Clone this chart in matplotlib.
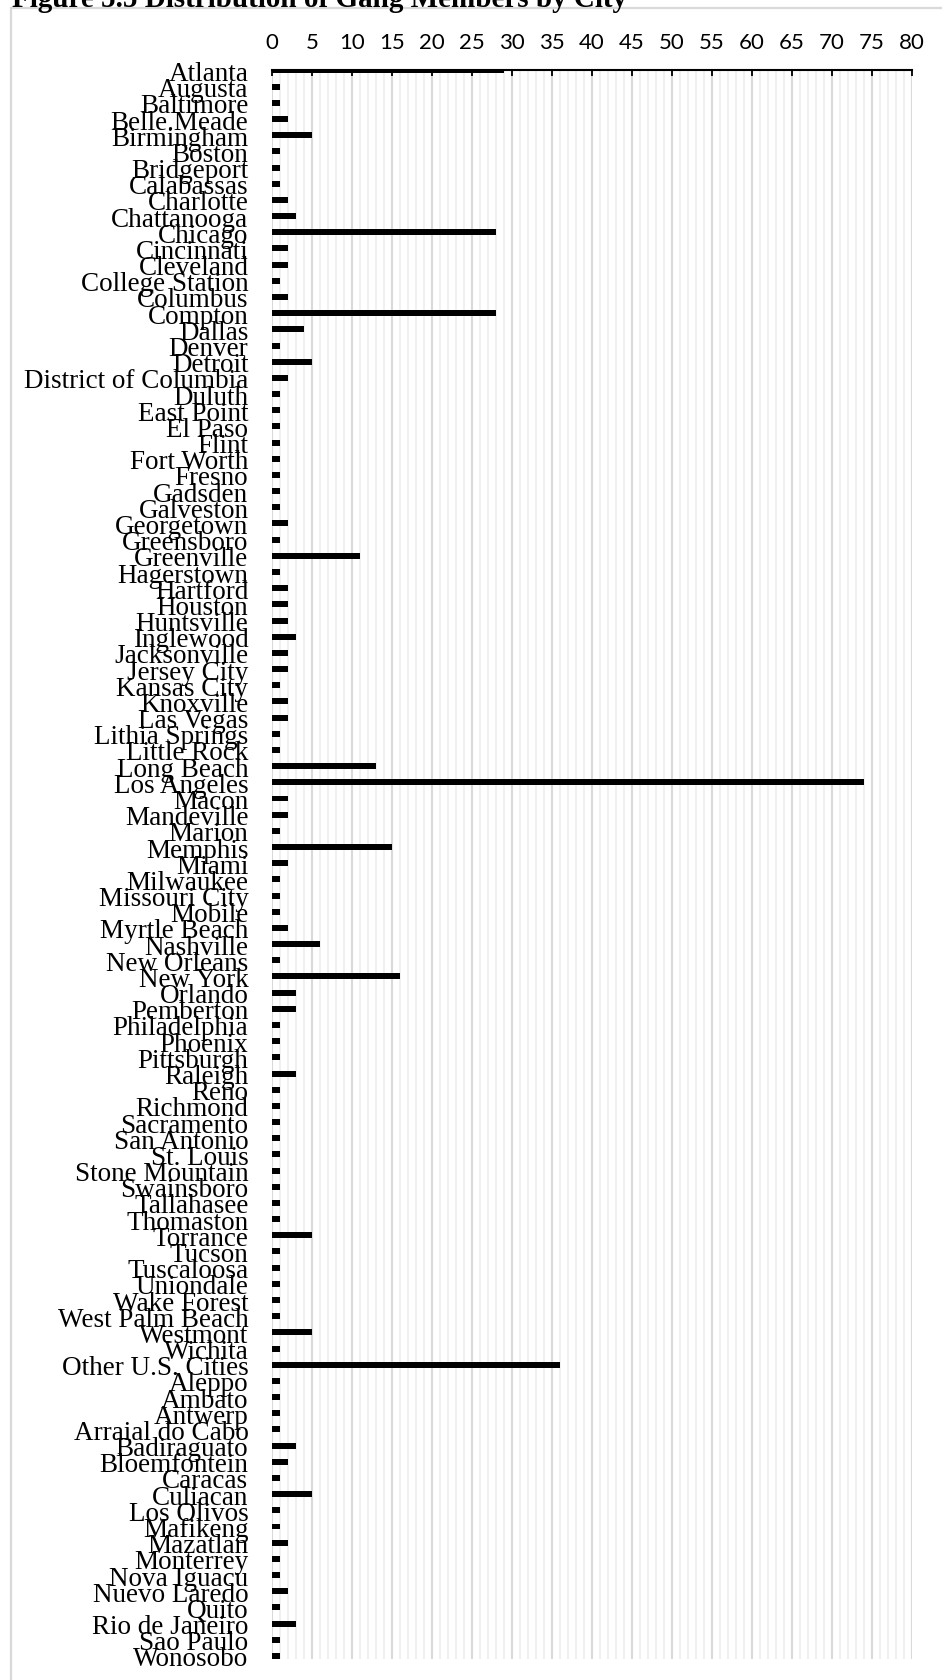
import numpy as np
import matplotlib
matplotlib.use('Agg')
import matplotlib.pyplot as plt
from matplotlib.patches import Rectangle
from matplotlib.ticker import MultipleLocator

plt.rc('font', family='Liberation Serif')

# %% Gang members by city
cities = ['Atlanta', 'Augusta', 'Baltimore', 'Belle.Meade', 'Birmingham', 'Boston',
          'Bridgeport', 'Calabassas', 'Charlotte', 'Chattanooga', 'Chicago', 'Cincinnati',
          'Cleveland', 'College Station', 'Columbus', 'Compton', 'Dallas', 'Denver',
          'Detroit', 'District of Columbia', 'Duluth', 'East Point', 'El Paso', 'Flint',
          'Fort Worth', 'Fresno', 'Gadsden', 'Galveston', 'Georgetown', 'Greensboro',
          'Greenville', 'Hagerstown', 'Hartford', 'Houston', 'Huntsville', 'Inglewood',
          'Jacksonville', 'Jersey City', 'Kansas City', 'Knoxville', 'Las Vegas',
          'Lithia Springs', 'Little Rock', 'Long Beach', 'Los Angeles', 'Macon',
          'Mandeville', 'Marion', 'Memphis', 'Miami', 'Milwaukee', 'Missouri City',
          'Mobile', 'Myrtle Beach', 'Nashville', 'New Orleans', 'New York', 'Orlando',
          'Pemberton', 'Philadelphia', 'Phoenix', 'Pittsburgh', 'Raleigh', 'Reno',
          'Richmond', 'Sacramento', 'San Antonio', 'St. Louis', 'Stone Mountain',
          'Swainsboro', 'Tallahasee', 'Thomaston', 'Torrance', 'Tucson', 'Tuscaloosa',
          'Uniondale', 'Wake Forest', 'West Palm Beach', 'Westmont', 'Wichita',
          'Other U.S. Cities', 'Aleppo', 'Ambato', 'Antwerp', 'Arraial do Cabo',
          'Badiraguato', 'Bloemfontein', 'Caracas', 'Culiacan', 'Los Olivos', 'Mafikeng',
          'Mazatlan', 'Monterrey', 'Nova Iguacu', 'Nuevo Laredo', 'Quito',
          'Rio de Janeiro', 'Sao Paulo', 'Wonosobo']

members = [29, 1, 1, 2, 5, 1,
           1, 1, 2, 3, 28, 2,
           2, 1, 2, 28, 4, 1,
           5, 2, 1, 1, 1, 1,
           1, 1, 1, 1, 2, 1,
           11, 1, 2, 2, 2, 3,
           2, 2, 1, 2, 2,
           1, 1, 13, 74, 2,
           2, 1, 15, 2, 1, 1,
           1, 2, 6, 1, 16, 3,
           3, 1, 1, 1, 3, 1,
           1, 1, 1, 1, 1,
           1, 1, 1, 5, 1, 1,
           1, 1, 1, 5, 1,
           36, 1, 1, 1, 1,
           3, 2, 1, 5, 1, 1,
           2, 1, 1, 2, 1,
           3, 1, 1]

W, H = 942, 1681
fig = plt.figure(figsize=(W/100, H/100), dpi=100)

# outer chart frame (runs off the bottom/right of the image)
fig.add_artist(Rectangle((11/W, -0.05), 1.1, 1.05 - 9/H, transform=fig.transFigure,
                         fill=False, edgecolor='#d9d9d9', lw=1.6))

fig.text(12/W, 1 - 7/H, 'Figure 5.5 Distribution of Gang Members by City',
         fontsize=21, fontweight='bold', ha='left', va='baseline')

ax = fig.add_axes([272/W, 1 - 1660/H, 640/W, (1660 - 71)/H])
y = np.arange(len(cities))
ax.barh(y, members, height=0.37, color='black', zorder=3)

ax.set_xlim(0, 80)
ax.set_ylim(98.19, -0.03)
ax.set_yticks(y)
ax.set_yticklabels(cities, fontsize=19.5)
ax.tick_params(axis='y', length=0, pad=17)

ax.xaxis.tick_top()
ax.xaxis.set_major_locator(MultipleLocator(5))
ax.xaxis.set_minor_locator(MultipleLocator(1))
ax.tick_params(axis='x', which='major', direction='in', length=4.5, width=1.3,
               pad=13, labelsize=16)
ax.tick_params(axis='x', which='minor', length=0)
for lbl in ax.get_xticklabels():
    lbl.set_fontfamily('Lato')

ax.grid(axis='x', which='major', color='#d9d9d9', lw=1.5, zorder=1)
ax.grid(axis='x', which='minor', color='#f0f0f0', lw=1.5, zorder=0)
ax.set_axisbelow(True)

for s in ['left', 'right', 'bottom']:
    ax.spines[s].set_visible(False)
ax.spines['top'].set_linewidth(1.5)
ax.spines['top'].set_zorder(4)

plt.savefig('out.png', dpi=100)
